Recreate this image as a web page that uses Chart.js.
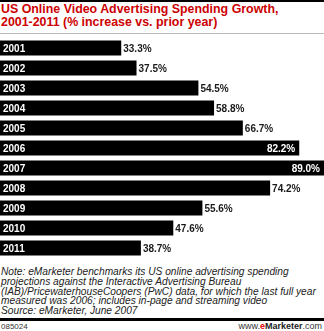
<!DOCTYPE html>
<html>
<head>
<meta charset="utf-8">
<script src="https://cdn.jsdelivr.net/npm/chart.js@4"></script>
<style>
  html, body { margin: 0; padding: 0; background: #fff; }
  #wrap { position: relative; width: 324px; height: 331px; overflow: hidden; font-family: "Liberation Sans", Arial, sans-serif; }
  #topline { position: absolute; left: 0; top: 0; width: 324px; height: 2px; background: #000; }
  #title { position: absolute; left: 1px; top: 3px; color: #cc0000; font-weight: bold; font-size: 12.4px; line-height: 13px; }
  #rule { position: absolute; left: 0; top: 33px; width: 324px; height: 1px; background: #bbb; }
  #chartBox { position: absolute; left: 0; top: 38px; width: 324px; height: 220px; }
  #note { position: absolute; left: 1px; top: 267px; font-style: italic; font-size: 10.2px; line-height: 9.8px; color: #222; }
  #botline { position: absolute; left: 0; top: 318px; width: 324px; height: 3px; background: #000; }
  #code { position: absolute; left: 1px; top: 322px; font-size: 8px; color: #333; }
  #site { position: absolute; right: 2px; top: 321px; font-size: 9px; color: #333; }
  #site b { color: #222; }
  #site span { color: #e00000; font-weight: bold; }
</style>
</head>
<body>
<div id="wrap">
  <div id="topline"></div>
  <div id="title">US Online Video Advertising Spending Growth,<br>2001-2011 (% increase vs. prior year)</div>
  <div id="rule"></div>
  <div id="chartBox"><canvas id="chart"></canvas></div>
  <div id="note">Note: eMarketer benchmarks its US online advertising spending<br>projections against the Interactive Advertising Bureau<br>(IAB)/PricewaterhouseCoopers (PwC) data, for which the last full year<br>measured was 2006; includes in-page and streaming video<br>Source: eMarketer, June 2007</div>
  <div id="botline"></div>
  <div id="code">085024</div>
  <div id="site">www.<span>e</span><b>Marketer</b>.com</div>
</div>
<script>
const years = ['2001', '2002', '2003', '2004', '2005', '2006', '2007', '2008', '2009', '2010', '2011'];
const growth = [33.3, 37.5, 54.5, 58.8, 66.7, 82.2, 89.0, 74.2, 55.6, 47.6, 38.7];
const insideLabels = ['2006', '2007'];

// labels: year inside bar on the left, value after bar end (or inside for the long ones)
const barLabels = {
    id: 'barLabels',
    afterDatasetsDraw(chart) {
        const ctx = chart.ctx;
        const meta = chart.getDatasetMeta(0);
        const xScale = chart.scales.x;
        ctx.save();
        ctx.font = 'bold 10px "Liberation Sans", Arial, sans-serif';
        ctx.textBaseline = 'middle';
        meta.data.forEach((bar, i) => {
            const y = bar.y + 1;
            ctx.fillStyle = '#fff';
            ctx.textAlign = 'left';
            ctx.fillText(years[i], xScale.getPixelForValue(0) + 3, y);
            const txt = growth[i].toFixed(1) + '%';
            if (insideLabels.includes(years[i])) {
                ctx.fillStyle = '#fff';
                ctx.textAlign = 'right';
                ctx.fillText(txt, bar.x - 4, y);
            } else {
                ctx.fillStyle = '#1a1a1a';
                ctx.textAlign = 'left';
                ctx.fillText(txt, bar.x + 2, y);
            }
        });
        ctx.restore();
    }
};

new Chart(document.getElementById('chart'), {
    type: 'bar',
    data: {
        labels: years,
        datasets: [{
            data: growth,
            backgroundColor: '#000',
            borderWidth: 0,
            barPercentage: 0.75,
            categoryPercentage: 1.0
        }]
    },
    options: {
        indexAxis: 'y',
        responsive: true,
        maintainAspectRatio: false,
        animation: false,
        layout: { padding: 0 },
        scales: {
            x: { display: false, min: 0, max: 89 },
            y: { display: false }
        },
        plugins: {
            legend: { display: false },
            tooltip: { enabled: false }
        }
    },
    plugins: [barLabels]
});
</script>
</body>
</html>
